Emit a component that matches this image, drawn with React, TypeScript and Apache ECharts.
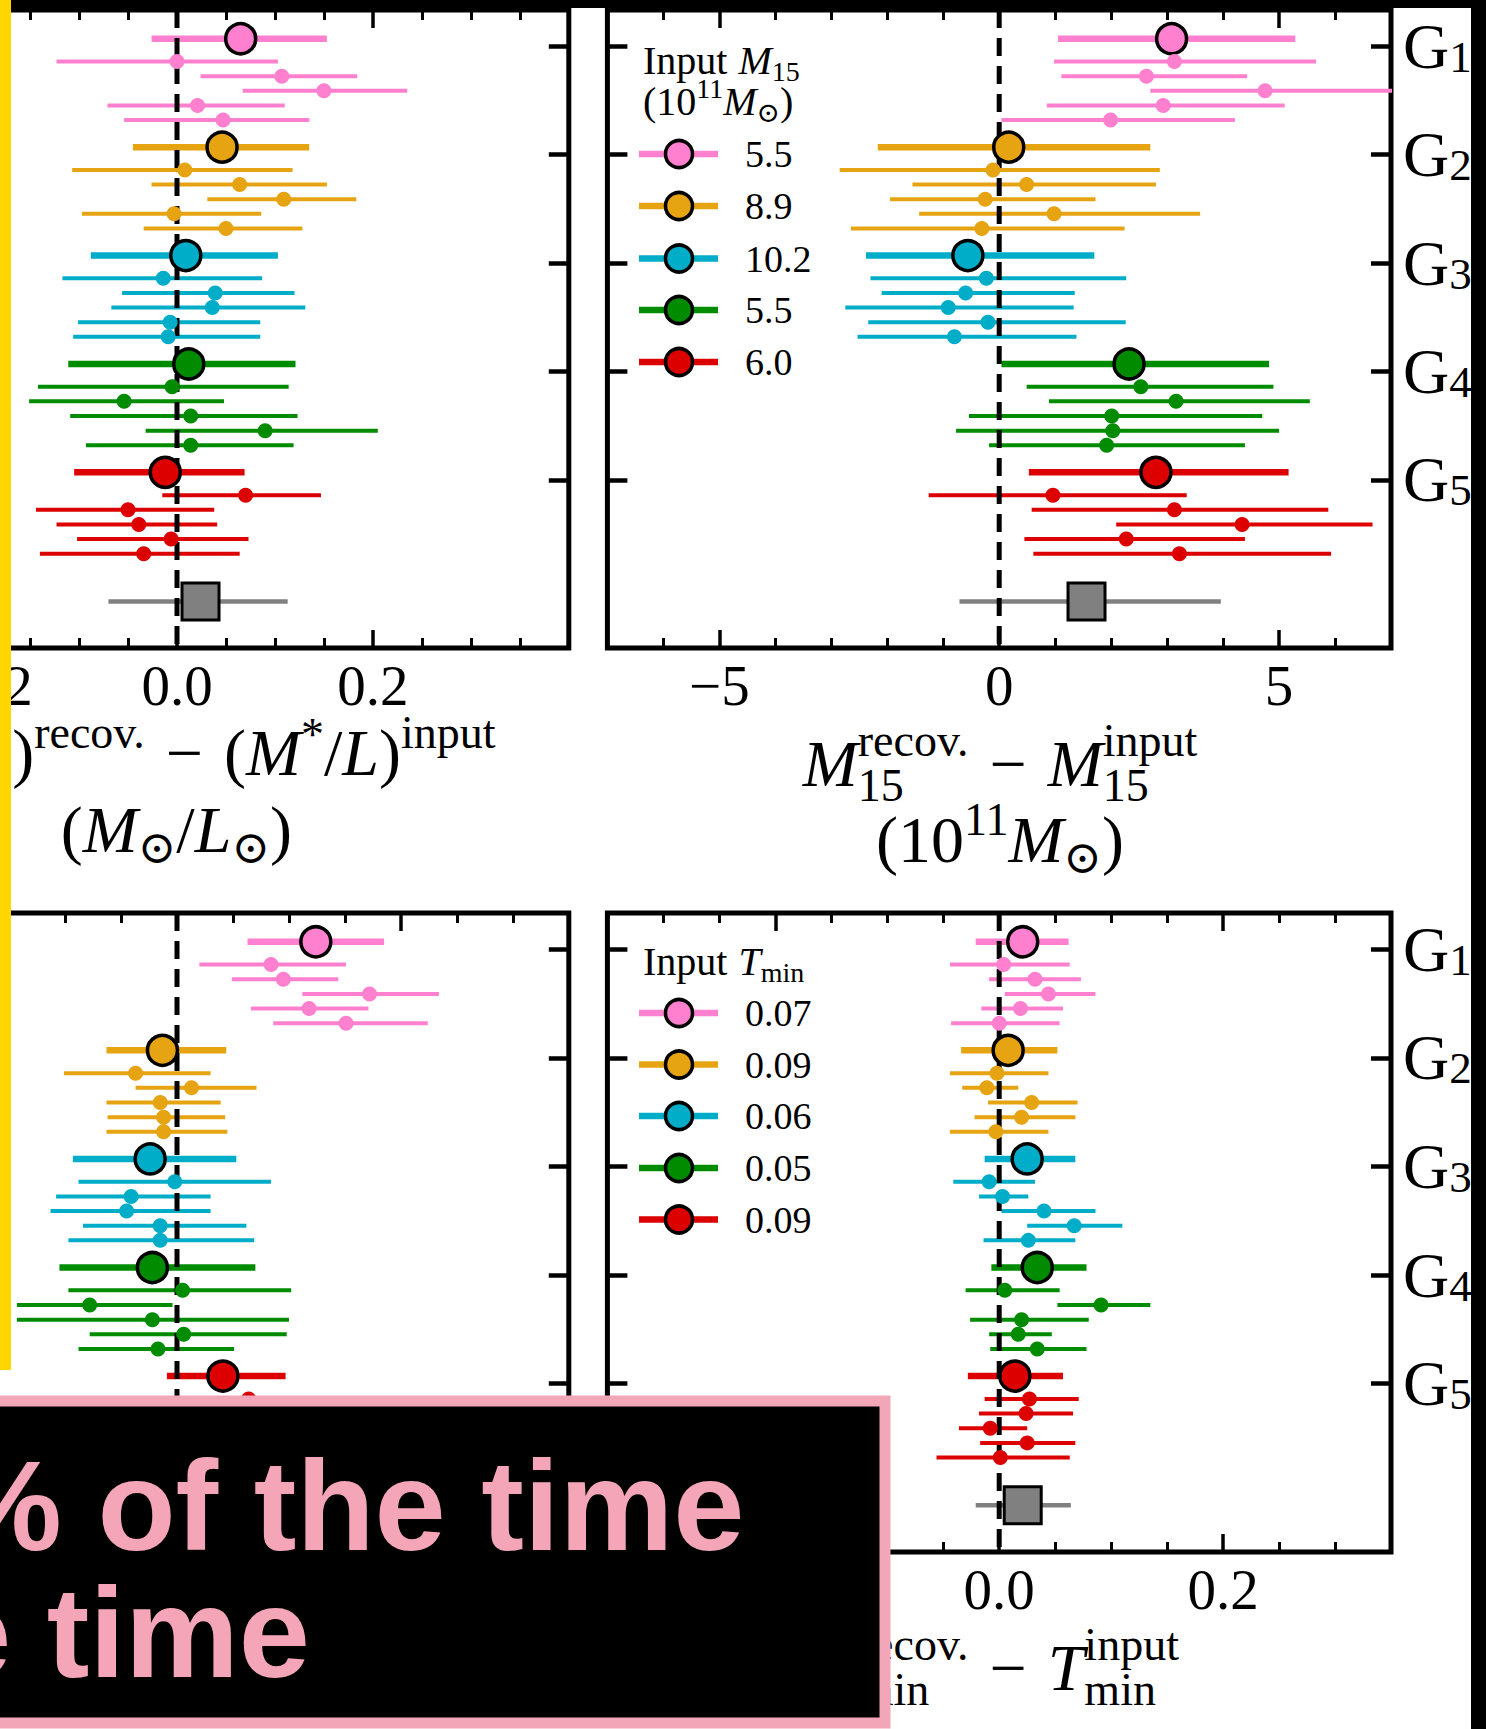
import React, { useEffect, useRef } from "react";
import * as echarts from "echarts";

// ---------- page geometry ----------
const OFFSET = 230; // chart canvas starts 230px left of the visible page
const PAGE_W = 1486;
const PAGE_H = 1729;

const SERIF = '"Liberation Serif", "DejaVu Serif", "Times New Roman", serif';
const SANS = '"Liberation Sans", Arial, Helvetica, sans-serif';

// ---------- data ----------
const GROUP_TICKS = [1, 2, 3, 4, 5];
const COLORS = ["#ff80cf", "#e6a312", "#00adc8", "#008b00", "#dc0000"];
const GRAY = "#808080";

// row 0 = group mean (big marker), rows 1..5 = individual realisations
const ROW_OFFSETS = [-0.07, 0.14, 0.275, 0.41, 0.545, 0.68];
const SUMMARY_POS = 6.12;
const Y_MIN = 0.665;
const Y_MAX = 6.55;

// Panel: (M*/L)^recov - (M*/L)^input
const ML_X = [
  [0.065, 0.0, 0.107, 0.15, 0.021, 0.047],
  [0.046, 0.008, 0.064, 0.109, -0.003, 0.05],
  [0.009, -0.014, 0.039, 0.036, -0.007, -0.009],
  [0.012, -0.005, -0.054, 0.014, 0.09, 0.014],
  [-0.012, 0.07, -0.05, -0.039, -0.006, -0.034],
];
const ML_LO = [
  [-0.026, -0.123, 0.024, 0.067, -0.071, -0.054],
  [-0.045, -0.107, -0.026, 0.031, -0.097, -0.034],
  [-0.088, -0.117, -0.056, -0.067, -0.101, -0.106],
  [-0.111, -0.142, -0.151, -0.109, -0.032, -0.093],
  [-0.105, -0.015, -0.144, -0.123, -0.102, -0.14],
];
const ML_HI = [
  [0.153, 0.103, 0.184, 0.235, 0.11, 0.135],
  [0.135, 0.118, 0.153, 0.183, 0.086, 0.128],
  [0.103, 0.087, 0.12, 0.131, 0.085, 0.085],
  [0.121, 0.114, 0.048, 0.123, 0.205, 0.119],
  [0.069, 0.147, 0.038, 0.041, 0.073, 0.064],
];
const ML_ALL = [0.024, -0.07, 0.113];

// Panel: M15^recov - M15^input
const M15_X = [
  [3.08, 3.13, 2.63, 4.75, 2.93, 1.99],
  [0.17, -0.11, 0.49, -0.25, 0.98, -0.31],
  [-0.56, -0.23, -0.6, -0.91, -0.2, -0.8],
  [2.32, 2.53, 3.16, 2.01, 2.03, 1.92],
  [2.8, 0.96, 3.13, 4.34, 2.27, 3.22],
];
const M15_LO = [
  [1.05, 0.98, 1.11, 2.7, 0.85, 0.04],
  [-2.17, -2.85, -1.55, -1.95, -1.43, -2.65],
  [-2.38, -2.3, -2.1, -2.75, -2.34, -2.53],
  [0.04, 0.49, 0.89, -0.54, -0.77, -0.18],
  [0.53, -1.26, 0.58, 2.09, 0.45, 0.61],
];
const M15_HI = [
  [5.29, 5.66, 4.43, 7.3, 5.1, 4.21],
  [2.7, 2.87, 2.8, 1.72, 3.59, 2.24],
  [1.7, 2.27, 1.35, 1.33, 2.26, 1.38],
  [4.82, 4.9, 5.55, 4.7, 5.0, 4.39],
  [5.17, 3.35, 5.88, 6.67, 4.39, 5.93],
];
const M15_ALL = [1.56, -0.71, 3.96];

// Panel: bottom-left (label hidden under the overlay)
const BL_X = [
  [0.124, 0.084, 0.095, 0.172, 0.118, 0.151],
  [-0.013, -0.037, 0.013, -0.015, -0.012, -0.012],
  [-0.024, -0.002, -0.041, -0.045, -0.015, -0.015],
  [-0.022, 0.005, -0.078, -0.022, 0.006, -0.017],
  [0.041, 0.064, 0.03, 0.01, 0.045, 0.02],
];
const BL_LO = [
  [0.063, 0.02, 0.049, 0.112, 0.066, 0.086],
  [-0.063, -0.101, -0.037, -0.063, -0.062, -0.063],
  [-0.093, -0.088, -0.108, -0.113, -0.084, -0.097],
  [-0.105, -0.097, -0.143, -0.143, -0.078, -0.088],
  [-0.009, 0.02, -0.02, -0.04, -0.005, -0.03],
];
const BL_HI = [
  [0.185, 0.151, 0.144, 0.234, 0.171, 0.224],
  [0.044, 0.03, 0.071, 0.039, 0.043, 0.045],
  [0.053, 0.084, 0.03, 0.03, 0.062, 0.069],
  [0.07, 0.102, -0.004, 0.1, 0.098, 0.051],
  [0.097, 0.11, 0.08, 0.06, 0.095, 0.07],
];
const BL_ALL = [0.01, -0.04, 0.06];

// Panel: Tmin^recov - Tmin^input
const TMIN_X = [
  [0.021, 0.004, 0.032, 0.044, 0.019, 0.0],
  [0.008, -0.002, -0.011, 0.029, 0.02, -0.003],
  [0.025, -0.009, 0.003, 0.04, 0.067, 0.026],
  [0.034, 0.005, 0.091, 0.02, 0.017, 0.034],
  [0.014, 0.027, 0.024, -0.008, 0.025, 0.001],
];
const TMIN_LO = [
  [-0.021, -0.044, -0.009, 0.005, -0.016, -0.043],
  [-0.034, -0.044, -0.033, -0.01, -0.022, -0.044],
  [-0.013, -0.041, -0.018, 0.002, 0.025, -0.014],
  [-0.007, -0.03, 0.052, -0.026, -0.009, -0.008],
  [-0.028, -0.013, -0.018, -0.036, -0.017, -0.056],
];
const TMIN_HI = [
  [0.062, 0.063, 0.073, 0.086, 0.057, 0.054],
  [0.052, 0.044, 0.017, 0.07, 0.068, 0.044],
  [0.068, 0.032, 0.026, 0.086, 0.11, 0.068],
  [0.078, 0.054, 0.135, 0.08, 0.047, 0.078],
  [0.057, 0.071, 0.066, 0.025, 0.068, 0.063],
];
const TMIN_ALL = [0.021, -0.021, 0.064];

// legend values
const M15_INPUT = ["5.5", "8.9", "10.2", "5.5", "6.0"];
const TMIN_INPUT = ["0.07", "0.09", "0.06", "0.05", "0.09"];

// tick values
const TL_MAJOR = [-0.2, 0, 0.2];
const TL_MINOR = [-0.35, -0.3, -0.25, -0.15, -0.1, -0.05, 0.05, 0.1, 0.15, 0.25, 0.3, 0.35];
const TR_MAJOR = [-5, 0, 5];
const TR_MINOR = [-6, -4, -3, -2, -1, 1, 2, 3, 4, 6];
const B_MAJOR = [-0.2, 0, 0.2];
const B_MINOR = [-0.3, -0.25, -0.15, -0.1, -0.05, 0.05, 0.1, 0.15, 0.25, 0.3];

// ---------- helpers ----------
const fmt1 = (v: number) => (Math.abs(v) < 1e-9 ? "0.0" : (v < 0 ? "\u2212" : "") + Math.abs(v).toFixed(1));
const fmt0 = (v: number) => (Math.abs(v) < 1e-9 ? "0" : (v < 0 ? "\u2212" : "") + Math.abs(Math.round(v)));

let _ctx: CanvasRenderingContext2D | null = null;
function measure(t: string, s: number, it?: boolean) {
  if (!_ctx) _ctx = document.createElement("canvas").getContext("2d");
  if (!_ctx) return t.length * s * 0.5;
  _ctx.font = `${it ? "italic " : ""}${s}px ${SERIF}`;
  return _ctx.measureText(t).width;
}

type Tok = { t?: string; s?: number; it?: boolean; dy?: number; w?: number; stack?: Tok[] };

function textEl(t: string, px: number, cy: number, s: number, it?: boolean, family = SERIF, fill = "#000", weight = "normal") {
  return {
    type: "text",
    x: px + OFFSET,
    y: cy,
    z: 50,
    silent: true,
    style: {
      text: t,
      fontSize: s,
      fontFamily: family,
      fontStyle: it ? "italic" : "normal",
      fontWeight: weight,
      fill,
      align: "left",
      textAlign: "left",
      verticalAlign: "middle",
      textVerticalAlign: "middle",
    },
  } as any;
}

function mathLine(tokens: Tok[], x: number, baseline: number, align: "left" | "center") {
  const widths = tokens.map((tk) => {
    if (tk.w !== undefined) return tk.w;
    if (tk.stack) return Math.max(...tk.stack.map((p) => measure(p.t || "", p.s || 10, p.it)));
    return measure(tk.t || "", tk.s || 10, tk.it);
  });
  const total = widths.reduce((a, b) => a + b, 0);
  let cx = align === "center" ? x - total / 2 : x;
  const els: any[] = [];
  tokens.forEach((tk, i) => {
    if (tk.w === undefined) {
      const parts = tk.stack ? tk.stack : [tk];
      parts.forEach((p) => {
        const s = p.s || 10;
        els.push(textEl(p.t || "", cx, baseline + (p.dy || 0) - 0.34 * s, s, p.it));
      });
    }
    cx += widths[i];
  });
  return els;
}

// ---------- panels ----------
const GRID_W = 783.6;
const PANELS = [
  { left: -214.8, top: 10, height: 638, min: -0.4, max: 0.4, major: TL_MAJOR, minor: TL_MINOR, fmt: fmt1, X: ML_X, LO: ML_LO, HI: ML_HI, ALL: ML_ALL, labels: true, gLabels: false },
  { left: 607.4, top: 10, height: 638, min: -7, max: 7, major: TR_MAJOR, minor: TR_MINOR, fmt: fmt0, X: M15_X, LO: M15_LO, HI: M15_HI, ALL: M15_ALL, labels: true, gLabels: true },
  { left: -214.8, top: 913, height: 639, min: -0.35, max: 0.35, major: B_MAJOR, minor: B_MINOR, fmt: fmt1, X: BL_X, LO: BL_LO, HI: BL_HI, ALL: BL_ALL, labels: false, gLabels: false },
  { left: 607.4, top: 913, height: 639, min: -0.35, max: 0.35, major: B_MAJOR, minor: B_MINOR, fmt: fmt1, X: TMIN_X, LO: TMIN_LO, HI: TMIN_HI, ALL: TMIN_ALL, labels: true, gLabels: true },
];

function buildOption() {
  const grid: any[] = [];
  const xAxis: any[] = [];
  const yAxis: any[] = [];
  const series: any[] = [];

  PANELS.forEach((P, p) => {
    grid.push({
      left: P.left + OFFSET,
      top: P.top,
      width: GRID_W,
      height: P.height,
      show: true,
      borderColor: "#000",
      borderWidth: 5,
      backgroundColor: "transparent",
      containLabel: false,
    });
    const xBase = {
      gridIndex: p,
      type: "value",
      min: P.min,
      max: P.max,
      axisLine: { show: false, onZero: false },
      splitLine: { show: false },
    };
    (["bottom", "top"] as const).forEach((pos) => {
      xAxis.push({
        ...xBase,
        position: pos,
        axisTick: { show: true, inside: true, length: 18, lineStyle: { color: "#000", width: 3.5 }, customValues: P.major },
        axisLabel:
          pos === "bottom" && P.labels
            ? { show: true, customValues: P.major, formatter: (v: number) => P.fmt(v), fontSize: 57, fontFamily: SERIF, color: "#000", margin: 9 }
            : { show: false },
      });
      xAxis.push({
        ...xBase,
        position: pos,
        axisTick: { show: true, inside: true, length: 10, lineStyle: { color: "#000", width: 3 }, customValues: P.minor },
        axisLabel: { show: false },
      });
    });
    const yBase = {
      gridIndex: p,
      type: "value",
      inverse: true,
      min: Y_MIN,
      max: Y_MAX,
      axisLine: { show: false, onZero: false },
      splitLine: { show: false },
      axisTick: { show: true, inside: true, length: 20, lineStyle: { color: "#000", width: 4.5 }, customValues: GROUP_TICKS },
    };
    yAxis.push({ ...yBase, position: "left", axisLabel: { show: false } });
    yAxis.push({
      ...yBase,
      position: "right",
      axisLabel: P.gLabels
        ? {
            show: true,
            customValues: GROUP_TICKS,
            margin: 12,
            formatter: (v: number) => `{g|G}{s|${Math.round(v)}}`,
            rich: {
              g: { fontSize: 64, fontFamily: SERIF, color: "#000", lineHeight: 66 },
              s: { fontSize: 45, fontFamily: SERIF, color: "#000", lineHeight: 28, verticalAlign: "bottom" },
            },
          }
        : { show: false },
    });

    const xi = p * 4;
    const yi = p * 2;
    const bars: any[] = [];
    const marks: any[] = [];
    for (let g = 0; g < 5; g++) {
      for (let r = 0; r < 6; r++) {
        const y = GROUP_TICKS[g] + ROW_OFFSETS[r];
        const big = r === 0;
        bars.push([P.LO[g][r], P.HI[g][r], y, g, big ? 1 : 0]);
        marks.push({
          value: [P.X[g][r], y],
          symbol: "circle",
          symbolSize: big ? 30 : 15,
          itemStyle: { color: COLORS[g], borderColor: "#000", borderWidth: big ? 3.5 : 0, opacity: 1 },
        });
      }
    }
    bars.push([P.ALL[1], P.ALL[2], SUMMARY_POS, -1, 0]);
    marks.push({
      value: [P.ALL[0], SUMMARY_POS],
      symbol: "rect",
      symbolSize: 37,
      itemStyle: { color: GRAY, borderColor: "#000", borderWidth: 3, opacity: 1 },
    });

    series.push({
      type: "custom",
      xAxisIndex: xi,
      yAxisIndex: yi,
      z: 2,
      clip: true,
      silent: true,
      encode: { x: [0, 1], y: 2 },
      data: bars,
      renderItem: (params: any, api: any) => {
        const a = api.coord([api.value(0), api.value(2)]);
        const b = api.coord([api.value(1), api.value(2)]);
        const ci = api.value(3);
        const big = api.value(4) === 1;
        return {
          type: "line",
          shape: { x1: a[0], y1: a[1], x2: b[0], y2: b[1] },
          style: { stroke: ci < 0 ? GRAY : COLORS[ci], lineWidth: big ? 6.5 : ci < 0 ? 4.5 : 4 },
        };
      },
    });
    series.push({
      type: "custom",
      xAxisIndex: xi,
      yAxisIndex: yi,
      z: 3,
      silent: true,
      encode: { x: 0, y: [1, 2] },
      data: [[0, Y_MIN, Y_MAX]],
      renderItem: (params: any, api: any) => {
        const a = api.coord([0, Y_MIN]);
        const b = api.coord([0, Y_MAX]);
        return {
          type: "line",
          shape: { x1: a[0], y1: a[1], x2: b[0], y2: b[1] },
          style: { stroke: "#000", lineWidth: 5, lineDash: [18, 10] },
        };
      },
    });
    series.push({
      type: "scatter",
      xAxisIndex: xi,
      yAxisIndex: yi,
      z: 4,
      silent: true,
      clip: true,
      data: marks,
    });
  });

  // ---------- texts & decorations ----------
  const S = 66;
  const s = 46;
  const graphic: any[] = [];

  // axis titles
  graphic.push(
    ...mathLine(
      [
        { t: "(", s: S }, { t: "M", s: S, it: true }, { t: "*", s, dy: -25 }, { t: "/", s: S }, { t: "L", s: S, it: true }, { t: ")", s: S },
        { t: "recov.", s, dy: -27 }, { w: 21 }, { t: "\u2212", s: S }, { w: 21 },
        { t: "(", s: S }, { t: "M", s: S, it: true }, { t: "*", s, dy: -25 }, { t: "/", s: S }, { t: "L", s: S, it: true }, { t: ")", s: S },
        { t: "input", s, dy: -27 },
      ],
      176.4, 775, "center"
    )
  );
  graphic.push(
    ...mathLine(
      [{ t: "(", s: S }, { t: "M", s: S, it: true }, { t: "\u2299", s, dy: 11 }, { t: "/", s: S }, { t: "L", s: S, it: true }, { t: "\u2299", s, dy: 11 }, { t: ")", s: S }],
      176.4, 852, "center"
    )
  );
  graphic.push(
    ...mathLine(
      [
        { t: "M", s: S, it: true }, { stack: [{ t: "recov.", s, dy: -30 }, { t: "15", s, dy: 15 }] }, { w: 21 }, { t: "\u2212", s: S }, { w: 21 },
        { t: "M", s: S, it: true }, { stack: [{ t: "input", s, dy: -30 }, { t: "15", s, dy: 15 }] },
      ],
      1000, 786, "center"
    )
  );
  graphic.push(
    ...mathLine(
      [{ t: "(", s: S }, { t: "10", s: S }, { t: "11", s, dy: -27 }, { t: "M", s: S, it: true }, { t: "\u2299", s, dy: 11 }, { t: ")", s: S }],
      1000, 862, "center"
    )
  );
  graphic.push(
    ...mathLine(
      [
        { t: "T", s: S, it: true }, { stack: [{ t: "recov.", s, dy: -30 }, { t: "min", s, dy: 15 }] }, { w: 21 }, { t: "\u2212", s: S }, { w: 21 },
        { t: "T", s: S, it: true }, { stack: [{ t: "input", s, dy: -30 }, { t: "min", s, dy: 15 }] },
      ],
      1000, 1690, "center"
    )
  );

  // legends
  const L = 40;
  const l = 28;
  graphic.push(...mathLine([{ t: "Input", s: L }, { w: 11 }, { t: "M", s: L, it: true }, { t: "15", s: l, dy: 7 }], 643, 74, "left"));
  graphic.push(...mathLine([{ t: "(", s: L }, { t: "10", s: L }, { t: "11", s: l, dy: -17 }, { t: "M", s: L, it: true }, { t: "\u2299", s: l, dy: 7 }, { t: ")", s: L }], 643, 115, "left"));
  graphic.push(...mathLine([{ t: "Input", s: L }, { w: 11 }, { t: "T", s: L, it: true }, { t: "min", s: l, dy: 7 }], 643, 975, "left"));

  const legendRows = (vals: string[], ys: number[]) => {
    vals.forEach((v, i) => {
      graphic.push({ type: "line", z: 50, silent: true, shape: { x1: 639 + OFFSET, y1: ys[i], x2: 718 + OFFSET, y2: ys[i] }, style: { stroke: COLORS[i], lineWidth: 6.5 } });
      graphic.push({ type: "circle", z: 51, silent: true, shape: { cx: 679 + OFFSET, cy: ys[i], r: 13.5 }, style: { fill: COLORS[i], stroke: "#000", lineWidth: 3.5 } });
      graphic.push(textEl(v, 745, ys[i], 38));
    });
  };
  legendRows(M15_INPUT, [154, 206, 258.5, 310, 362]);
  legendRows(TMIN_INPUT, [1013, 1064.5, 1116, 1168, 1219.5]);

  // screenshot framing: black band on top, black strip at right, yellow highlighter on left
  graphic.push({ type: "rect", z: 90, silent: true, shape: { x: 0, y: 0, width: PAGE_W + OFFSET, height: 8 }, style: { fill: "#000" } });
  graphic.push({ type: "rect", z: 90, silent: true, shape: { x: 1471 + OFFSET, y: 0, width: 20, height: PAGE_H }, style: { fill: "#000" } });
  graphic.push({ type: "rect", z: 91, silent: true, shape: { x: OFFSET, y: 0, width: 11, height: 1370 }, style: { fill: "#ffd600" } });

  // overlay caption box
  graphic.push({
    type: "rect",
    z: 95,
    silent: true,
    shape: { x: OFFSET - 20, y: 1401, width: 905, height: 322 },
    style: { fill: "#000", stroke: "#f3a6b8", lineWidth: 11 },
  });
  const cap1 = textEl("% of the time", -52, 1505, 128, false, SANS, "#f4a6b8", "bold");
  const cap2 = textEl("e time", -60, 1632, 128, false, SANS, "#f4a6b8", "bold");
  cap1.z = 96;
  cap2.z = 96;
  graphic.push(cap1, cap2);

  return {
    animation: false,
    backgroundColor: "#fff",
    grid,
    xAxis,
    yAxis,
    series,
    graphic: { elements: graphic },
  };
}

export default function App() {
  const ref = useRef<HTMLDivElement>(null);
  useEffect(() => {
    document.body.style.margin = "0";
    if (!ref.current) return;
    const chart = echarts.init(ref.current, undefined, { renderer: "svg" });
    chart.setOption(buildOption() as any);
    return () => chart.dispose();
  }, []);
  return (
    <div style={{ position: "relative", width: PAGE_W, height: PAGE_H, overflow: "hidden", background: "#fff" }}>
      <div ref={ref} style={{ position: "absolute", left: -OFFSET, top: 0, width: PAGE_W + OFFSET, height: PAGE_H }} />
    </div>
  );
}
